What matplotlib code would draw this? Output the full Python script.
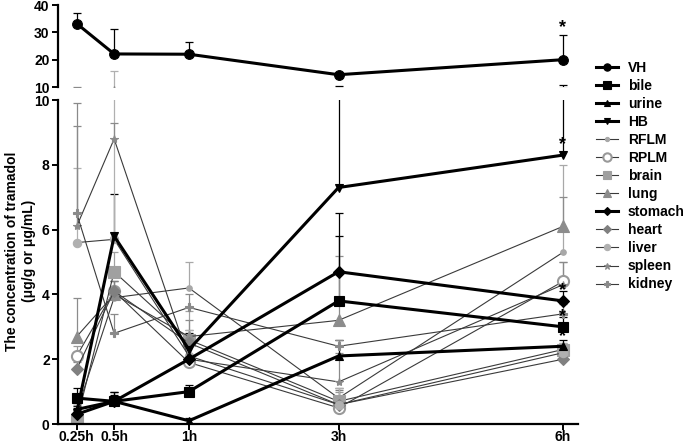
import matplotlib
matplotlib.use("Agg")
import matplotlib.pyplot as plt
import numpy as np

plt.rcParams['font.family'] = ['Liberation Sans', 'DejaVu Sans']
plt.rcParams['font.weight'] = 'bold'
plt.rcParams['font.size'] = 10

time_labels = ['0.25h', '0.5h', '1h', '3h', '6h']
# spacing of the time points on the x axis (not linear in time)
xpos = np.array([0, 1, 3, 7, 13])

names = ['VH', 'bile', 'urine', 'HB', 'RFLM', 'RPLM', 'brain', 'lung',
         'stomach', 'heart', 'liver', 'spleen', 'kidney']

vh = [33.2, 22.1, 22.0, 14.5, 20.0]
vh_err = [3.9, 9.0, 4.3, 0.3, 9.0]
bile = [0.8, 0.7, 1.0, 3.8, 3.0]
bile_err = [0.3, 0.3, 0.2, 2.0, 0.3]
urine = [0.45, 0.7, 0.1, 2.1, 2.4]
urine_err = [0.2, 0.3, 0.1, 0.5, 0.2]
hb = [0.35, 5.8, 2.3, 7.3, 8.3]
hb_err = [0.2, 1.3, 0.5, 3.1, 2.3]
rflm = [0.4, 3.9, 4.2, 0.8, 5.3]
rflm_err = [0.2, 0.3, 0.8, 0.3, 2.7]
rplm = [2.1, 4.1, 1.9, 0.5, 4.4]
rplm_err = [0.3, 0.3, 0.5, 0.5, 0.6]
brain = [0.1, 4.7, 2.6, 0.7, 2.3]
brain_err = [0.1, 0.6, 0.9, 0.4, 0.2]
lung = [2.7, 4.0, 2.7, 3.2, 6.1]
lung_err = [1.2, 0.4, 0.5, 2.0, 0.9]
stomach = [0.3, 0.7, 2.0, 4.7, 3.8]
stomach_err = [0.2, 0.2, 0.4, 1.8, 0.3]
heart = [1.7, 4.1, 2.5, 0.6, 2.0]
heart_err = [0.2, 0.3, 0.4, 0.45, 0.2]
liver = [5.6, 5.7, 2.1, 0.6, 2.2]
liver_err = [2.3, 10.2, 0.8, 0.5, 0.3]
spleen = [6.1, 8.8, 2.0, 1.3, 4.3]
spleen_err = [3.1, 0.5, 0.5, 0.9, 0.7]
kidney = [6.5, 2.8, 3.6, 2.4, 3.4]
kidney_err = [3.4, 0.6, 0.4, 0.2, 0.3]

# (series, err, marker, marker colour, size, thick, filled)
styles = [
    (vh, vh_err, 'o', 'black', 7, True, True),
    (bile, bile_err, 's', 'black', 7, True, True),
    (urine, urine_err, '^', 'black', 6, True, True),
    (hb, hb_err, 'v', 'black', 6, True, True),
    (rflm, rflm_err, 'o', '#a8a8a8', 4, False, True),
    (rplm, rplm_err, 'o', '#999999', 8, False, False),
    (brain, brain_err, 's', '#a0a0a0', 8, False, True),
    (lung, lung_err, '^', '#8c8c8c', 8, False, True),
    (stomach, stomach_err, 'D', 'black', 6, True, True),
    (heart, heart_err, 'D', '#808080', 6, False, True),
    (liver, liver_err, 'o', '#b0b0b0', 6, False, True),
    (spleen, spleen_err, '*', '#8a8a8a', 6, False, True),
    (kidney, kidney_err, 'P', '#8a8a8a', 6, False, True),
]

fig = plt.figure(figsize=(6.85, 4.44), dpi=100)
ax_top = fig.add_axes([0.0847, 0.804, 0.759, 0.1847])
ax_bot = fig.add_axes([0.0847, 0.045, 0.759, 0.7297])

handles = []
for ax in (ax_top, ax_bot):
    for (y, err, mk, col, ms, thick, filled), name in zip(styles, names):
        y = np.array(y)
        top = y + np.array(err)
        ecol = 'black' if thick else col
        ax.vlines(xpos, y, top, color=ecol, lw=0.9, zorder=1)
        ax.plot(xpos, top, ls='none', marker='_', ms=6, mew=0.9, color=ecol, zorder=1)
        lcol = 'black' if thick else '#3a3a3a'
        lw = 2.2 if thick else 0.8
        h, = ax.plot(xpos, y, color=lcol, lw=lw, marker=mk, ms=ms,
                     mfc=col if filled else 'white', mec=col,
                     mew=1.5 if not filled else 0.8, zorder=3 if thick else 2,
                     label=name)
        if ax is ax_bot:
            handles.append(h)

ax_top.set_ylim(10, 40)
ax_bot.set_ylim(0, 10)
for ax in (ax_top, ax_bot):
    ax.set_xlim(-0.5, 13.4)
    ax.spines['top'].set_visible(False)
    ax.spines['right'].set_visible(False)
    ax.spines['left'].set_linewidth(1.6)
    ax.spines['bottom'].set_linewidth(1.6)
    ax.tick_params(width=1.4, length=4, labelsize=10, pad=2)

ax_top.spines['bottom'].set_visible(False)
ax_top.set_xticks([])
ax_top.set_yticks([10, 20, 30, 40])
ax_bot.set_yticks([0, 2, 4, 6, 8, 10])
ax_bot.set_xticks(xpos)
ax_bot.set_xticklabels(time_labels)
ax_bot.tick_params(axis='x', length=4, pad=0.5)

# significance marks at 6h
ax_top.text(xpos[-1], vh[-1] + vh_err[-1] - 0.5, '*', ha='center', va='bottom', fontsize=13)
for s in (hb, stomach, bile, urine):
    ax_bot.text(xpos[-1], s[-1] + 0.05, '*', ha='center', va='bottom', fontsize=13)

fig.text(0.03, 0.434, 'The concentration of tramadol\n(\u03bcg/g or \u03bcg/mL)',
         rotation=90, ha='center', va='center', multialignment='center', fontsize=10)

fig.legend(handles=handles, loc='upper left', bbox_to_anchor=(0.862, 0.875),
           frameon=False, handlelength=1.6, labelspacing=0.29, fontsize=10,
           handletextpad=0.7, borderaxespad=0, markerscale=0.75)

fig.savefig('out.png', dpi=100)
